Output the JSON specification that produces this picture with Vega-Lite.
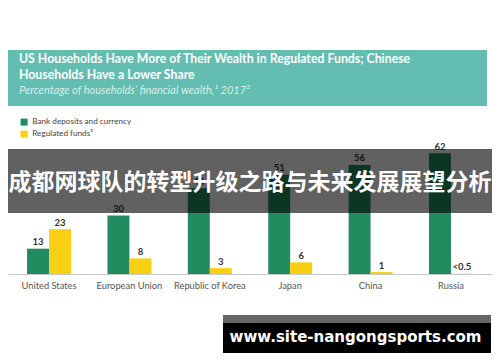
{
 "$schema": "https://vega.github.io/schema/vega-lite/v6.json",
 "width": 484,
 "height": 224,
 "autosize": {"type": "none"},
 "padding": {"left": 8, "top": 50, "right": 8, "bottom": 88},
 "background": "#ffffff",
 "config": {"view": {"stroke": null}, "font": "Lato", "axis": {"grid": false}},
 "datasets": {
  "funds": [
   {"country": "United States", "series": "Bank deposits and currency", "value": 13, "label": "13"},
   {"country": "United States", "series": "Regulated funds³", "value": 23, "label": "23"},
   {"country": "European Union", "series": "Bank deposits and currency", "value": 30, "label": "30"},
   {"country": "European Union", "series": "Regulated funds³", "value": 8, "label": "8"},
   {"country": "Republic of Korea", "series": "Bank deposits and currency", "value": 44, "label": "44"},
   {"country": "Republic of Korea", "series": "Regulated funds³", "value": 3, "label": "3"},
   {"country": "Japan", "series": "Bank deposits and currency", "value": 51, "label": "51"},
   {"country": "Japan", "series": "Regulated funds³", "value": 6, "label": "6"},
   {"country": "China", "series": "Bank deposits and currency", "value": 56, "label": "56"},
   {"country": "China", "series": "Regulated funds³", "value": 1, "label": "1"},
   {"country": "Russia", "series": "Bank deposits and currency", "value": 62, "label": "62"},
   {"country": "Russia", "series": "Regulated funds³", "value": 0.2, "label": "<0.5"}
  ]
 },
 "resolve": {"scale": {"x": "independent"}},
 "layer": [
  {
   "data": {"values": [{"part": "header"}]},
   "mark": {"type": "rect", "color": "#63bdb1"},
   "encoding": {
    "x": {"datum": 0, "type": "quantitative", "scale": {"domain": [0, 100], "nice": false, "zero": false}, "axis": null},
    "x2": {"datum": 98.97},
    "y": {"datum": 86.2, "type": "quantitative", "scale": {"domain": [0, 115], "nice": false}, "axis": null},
    "y2": {"datum": 115}
   }
  },
  {
   "data": {"values": [{"part": "title1"}]},
   "mark": {"type": "text", "text": "US Households Have More of Their Wealth in Regulated Funds; Chinese", "align": "left", "baseline": "alphabetic", "fontSize": 12.3, "fontWeight": "bold", "color": "#ffffff"},
   "encoding": {
    "x": {"datum": 2.27, "type": "quantitative", "scale": {"domain": [0, 100], "nice": false, "zero": false}, "axis": null},
    "y": {"datum": 108.3, "type": "quantitative", "scale": {"domain": [0, 115], "nice": false}, "axis": null}
   }
  },
  {
   "data": {"values": [{"part": "title2"}]},
   "mark": {"type": "text", "text": "Households Have a Lower Share", "align": "left", "baseline": "alphabetic", "fontSize": 12.3, "fontWeight": "bold", "color": "#ffffff"},
   "encoding": {
    "x": {"datum": 2.27, "type": "quantitative", "scale": {"domain": [0, 100], "nice": false, "zero": false}, "axis": null},
    "y": {"datum": 100.1, "type": "quantitative", "scale": {"domain": [0, 115], "nice": false}, "axis": null}
   }
  },
  {
   "data": {"values": [{"part": "subtitle"}]},
   "mark": {"type": "text", "text": "Percentage of households’ financial wealth,¹ 2017²", "align": "left", "baseline": "alphabetic", "fontSize": 11, "fontStyle": "italic", "color": "#d6efea"},
   "encoding": {
    "x": {"datum": 2.27, "type": "quantitative", "scale": {"domain": [0, 100], "nice": false, "zero": false}, "axis": null},
    "y": {"datum": 92.4, "type": "quantitative", "scale": {"domain": [0, 115], "nice": false}, "axis": null}
   }
  },
  {
   "data": {"name": "funds"},
   "encoding": {
    "x": {"field": "country", "type": "nominal", "sort": null,
      "scale": {"paddingInner": 0.453, "paddingOuter": 0.237},
      "axis": {"title": null, "labelAngle": 0, "ticks": false, "domainColor": "#c8c8c8", "labelColor": "#555555", "labelFontSize": 9.3, "labelPadding": 7, "labelFont": "Lato"}},
    "xOffset": {"field": "series", "type": "nominal", "sort": null, "scale": {"paddingInner": 0, "paddingOuter": 0}},
    "y": {"field": "value", "type": "quantitative", "scale": {"domain": [0, 115], "nice": false}, "axis": null}
   },
   "layer": [
    {
     "mark": {"type": "bar"},
     "encoding": {
      "color": {"field": "series", "type": "nominal", "sort": null,
        "scale": {"range": ["#228b5f", "#f9cf14"]},
        "legend": {"title": null, "orient": "none", "legendX": 12, "legendY": 68, "symbolType": "square", "symbolSize": 49, "symbolStrokeWidth": 0, "labelFontSize": 8.2, "labelColor": "#444444", "labelFont": "Lato", "rowPadding": 3, "padding": 0, "labelOffset": 4}}
     }
    },
    {
     "mark": {"type": "text", "dy": -3.5, "baseline": "alphabetic", "fontSize": 9.5, "fontWeight": "bold", "color": "#333333"},
     "encoding": {"text": {"field": "label"}}
    }
   ]
  },
  {
   "data": {"values": [{"part": "band"}]},
   "mark": {"type": "rect", "color": "#000000", "opacity": 0.62},
   "encoding": {
    "x": {"datum": 0, "type": "quantitative", "scale": {"domain": [0, 100], "nice": false, "zero": false}, "axis": null},
    "x2": {"datum": 100},
    "y": {"datum": 31.3, "type": "quantitative", "scale": {"domain": [0, 115], "nice": false}, "axis": null},
    "y2": {"datum": 64.2}
   }
  },
  {
   "data": {"values": [{"part": "banner"}]},
   "mark": {"type": "text", "text": "成都网球队的转型升级之路与未来发展展望分析", "align": "center", "baseline": "middle", "fontSize": 23, "fontWeight": "bold", "font": "Noto Sans CJK SC", "color": "#ffffff"},
   "encoding": {
    "x": {"datum": 50, "type": "quantitative", "scale": {"domain": [0, 100], "nice": false, "zero": false}, "axis": null},
    "y": {"datum": 46.7, "type": "quantitative", "scale": {"domain": [0, 115], "nice": false}, "axis": null}
   }
  },
  {
   "data": {"values": [{"part": "wmbox"}]},
   "mark": {"type": "rect", "color": "#000000"},
   "encoding": {
    "x": {"datum": 44.42, "type": "quantitative", "scale": {"domain": [0, 100], "nice": false, "zero": false}, "axis": null},
    "x2": {"datum": 99.79},
    "y": {"datum": -21.05, "type": "quantitative", "scale": {"domain": [0, 115], "nice": false}, "axis": null},
    "y2": {"datum": -40.55}
   }
  },
  {
   "data": {"values": [{"part": "wmstrip"}]},
   "mark": {"type": "rect", "color": "#666666"},
   "encoding": {
    "x": {"datum": 44.42, "type": "quantitative", "scale": {"domain": [0, 100], "nice": false, "zero": false}, "axis": null},
    "x2": {"datum": 99.79},
    "y": {"datum": -21.05, "type": "quantitative", "scale": {"domain": [0, 115], "nice": false}, "axis": null},
    "y2": {"datum": -25.15}
   }
  },
  {
   "data": {"values": [{"part": "wmtext"}]},
   "mark": {"type": "text", "text": "www.site-nangongsports.com", "align": "center", "baseline": "alphabetic", "fontSize": 15, "fontWeight": "bold", "font": "DejaVu Sans", "color": "#ffffff"},
   "encoding": {
    "x": {"datum": 71.8, "type": "quantitative", "scale": {"domain": [0, 100], "nice": false, "zero": false}, "axis": null},
    "y": {"datum": -34.9, "type": "quantitative", "scale": {"domain": [0, 115], "nice": false}, "axis": null}
   }
  }
 ]
}
